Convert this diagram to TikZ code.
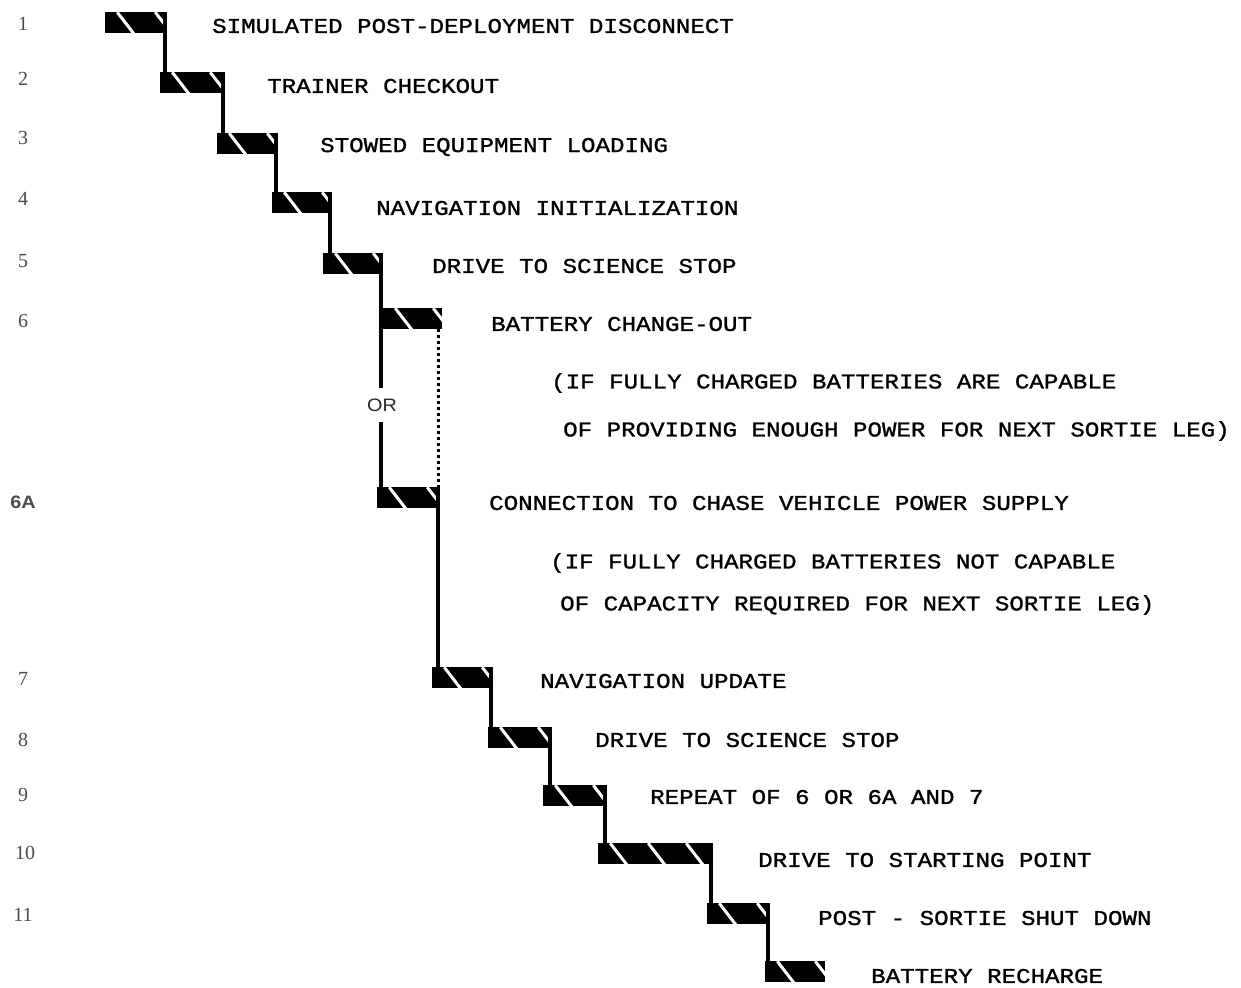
\documentclass[tikz,border=0pt]{standalone}
\usepackage{fontspec}
\newfontfamily\tw[FakeStretch=1.15,FakeBold=1.2]{Liberation Mono}
\newfontfamily\nf{Liberation Serif}
\newfontfamily\of[FakeStretch=1.1]{Liberation Sans}
\begin{document}
\begin{tikzpicture}[x=1pt,y=-1pt,
  barbox/.style={fill=black, draw=none, inner sep=0pt, minimum height=21pt, minimum width=#1, anchor=north west,
    path picture={\foreach \o in {12,50,88,126}{\draw[white, line width=3pt]
      ([xshift=\o pt]path picture bounding box.north west) -- ++(17pt,-22pt);}}},
  conn/.style={line width=4.4pt, black},
  dotconn/.style={line width=3pt, black, dash pattern=on 3pt off 3pt},
  lbl/.style={anchor=west, inner sep=0pt, font=\tw\fontsize{21}{21}\selectfont, text=black},
  num/.style={anchor=center, inner sep=0pt, font=\nf\fontsize{20}{20}\selectfont, text=black!70},
  ortext/.style={anchor=center, inner sep=0pt, minimum height=34pt, font=\of\fontsize{18}{18}\selectfont, text=black!85}]
\useasboundingbox[fill=white] (0,0) rectangle (1241,987);

% bars
\node[barbox=62pt] (b1) at (105,12) {};
\node[barbox=65pt] (b2) at (160,72) {};
\node[barbox=61pt] (b3) at (217,133) {};
\node[barbox=60pt] (b4) at (272,192) {};
\node[barbox=60pt] (b5) at (323,253) {};
\node[barbox=59pt] (b6) at (383,308) {};
\node[barbox=63pt] (b6a) at (377,487) {};
\node[barbox=61pt] (b7) at (432,667) {};
\node[barbox=64pt] (b8) at (488,727) {};
\node[barbox=64pt] (b9) at (543,785) {};
\node[barbox=115pt] (b10) at (598,843) {};
\node[barbox=63pt] (b11) at (707,903) {};
\node[barbox=60pt] (b12) at (765,961) {};

% OR
\node[ortext] (or) at (382,405) {OR};

% connectors
\foreach \a/\b in {b1/b2,b2/b3,b3/b4,b4/b5,b6a/b7,b7/b8,b8/b9,b9/b10,b10/b11,b11/b12}{
  \draw[conn] ([xshift=-2.2pt]\a.north east) -- ([xshift=-2.2pt]\a.north east |- \b.south);
}
\draw[conn] ([xshift=-2.2pt]b5.north east) -- ([xshift=-2.2pt]b5.north east |- or.north);
\draw[conn] ([xshift=-2.2pt]b5.north east |- or.south) -- ([xshift=-2.2pt]b5.north east |- b6a.south);
\draw[dotconn] ([xshift=-4pt]b6.south east) -- ([xshift=-4pt]b6.south east |- b6a.north);

% labels
\node[lbl] (t1) at (212,26) {SIMULATED POST-DEPLOYMENT DISCONNECT};
\node[lbl] (t2) at (267,86) {TRAINER CHECKOUT};
\node[lbl] (t3) at (320,147) {STOWED EQUIPMENT LOADING};
\node[lbl] (t4) at (376,208) {NAVIGATION INITIALIZATION};
\node[lbl] (t5) at (432,266) {DRIVE TO SCIENCE STOP};
\node[lbl] (t6) at (491,324) {BATTERY CHANGE-OUT};
\node[lbl] (t6b) at (551,383) {(IF FULLY CHARGED BATTERIES ARE CAPABLE};
\node[lbl] (t6c) at (563,431) {OF PROVIDING ENOUGH POWER FOR NEXT SORTIE LEG)};
\node[lbl] (t6a) at (489,503) {CONNECTION TO CHASE VEHICLE POWER SUPPLY};
\node[lbl] (t6ab) at (550,563) {(IF FULLY CHARGED BATTERIES NOT CAPABLE};
\node[lbl] (t6ac) at (560,605) {OF CAPACITY REQUIRED FOR NEXT SORTIE LEG)};
\node[lbl] (t7) at (540,681) {NAVIGATION UPDATE};
\node[lbl] (t8) at (595,740) {DRIVE TO SCIENCE STOP};
\node[lbl] (t9) at (650,797) {REPEAT OF 6 OR 6A AND 7};
\node[lbl] (t10) at (758,860) {DRIVE TO STARTING POINT};
\node[lbl] (t11) at (818,918) {POST - SORTIE SHUT DOWN};
\node[lbl] (t12) at (871,976) {BATTERY RECHARGE};

% numbers
\node[num] (n1) at (23,24) {1};
\node[num] (n2) at (23,79) {2};
\node[num] (n3) at (23,138) {3};
\node[num] (n4) at (23,199) {4};
\node[num] (n5) at (23,261) {5};
\node[num] (n6) at (23,321) {6};
\node[num, font=\of\bfseries\fontsize{18}{18}\selectfont] (n6a) at (23,502) {6A};
\node[num] (n7) at (23,679) {7};
\node[num] (n8) at (23,740) {8};
\node[num] (n9) at (23,795) {9};
\node[num] (n10) at (25,853) {10};
\node[num] (n11) at (23,915) {11};
\end{tikzpicture}
\end{document}
